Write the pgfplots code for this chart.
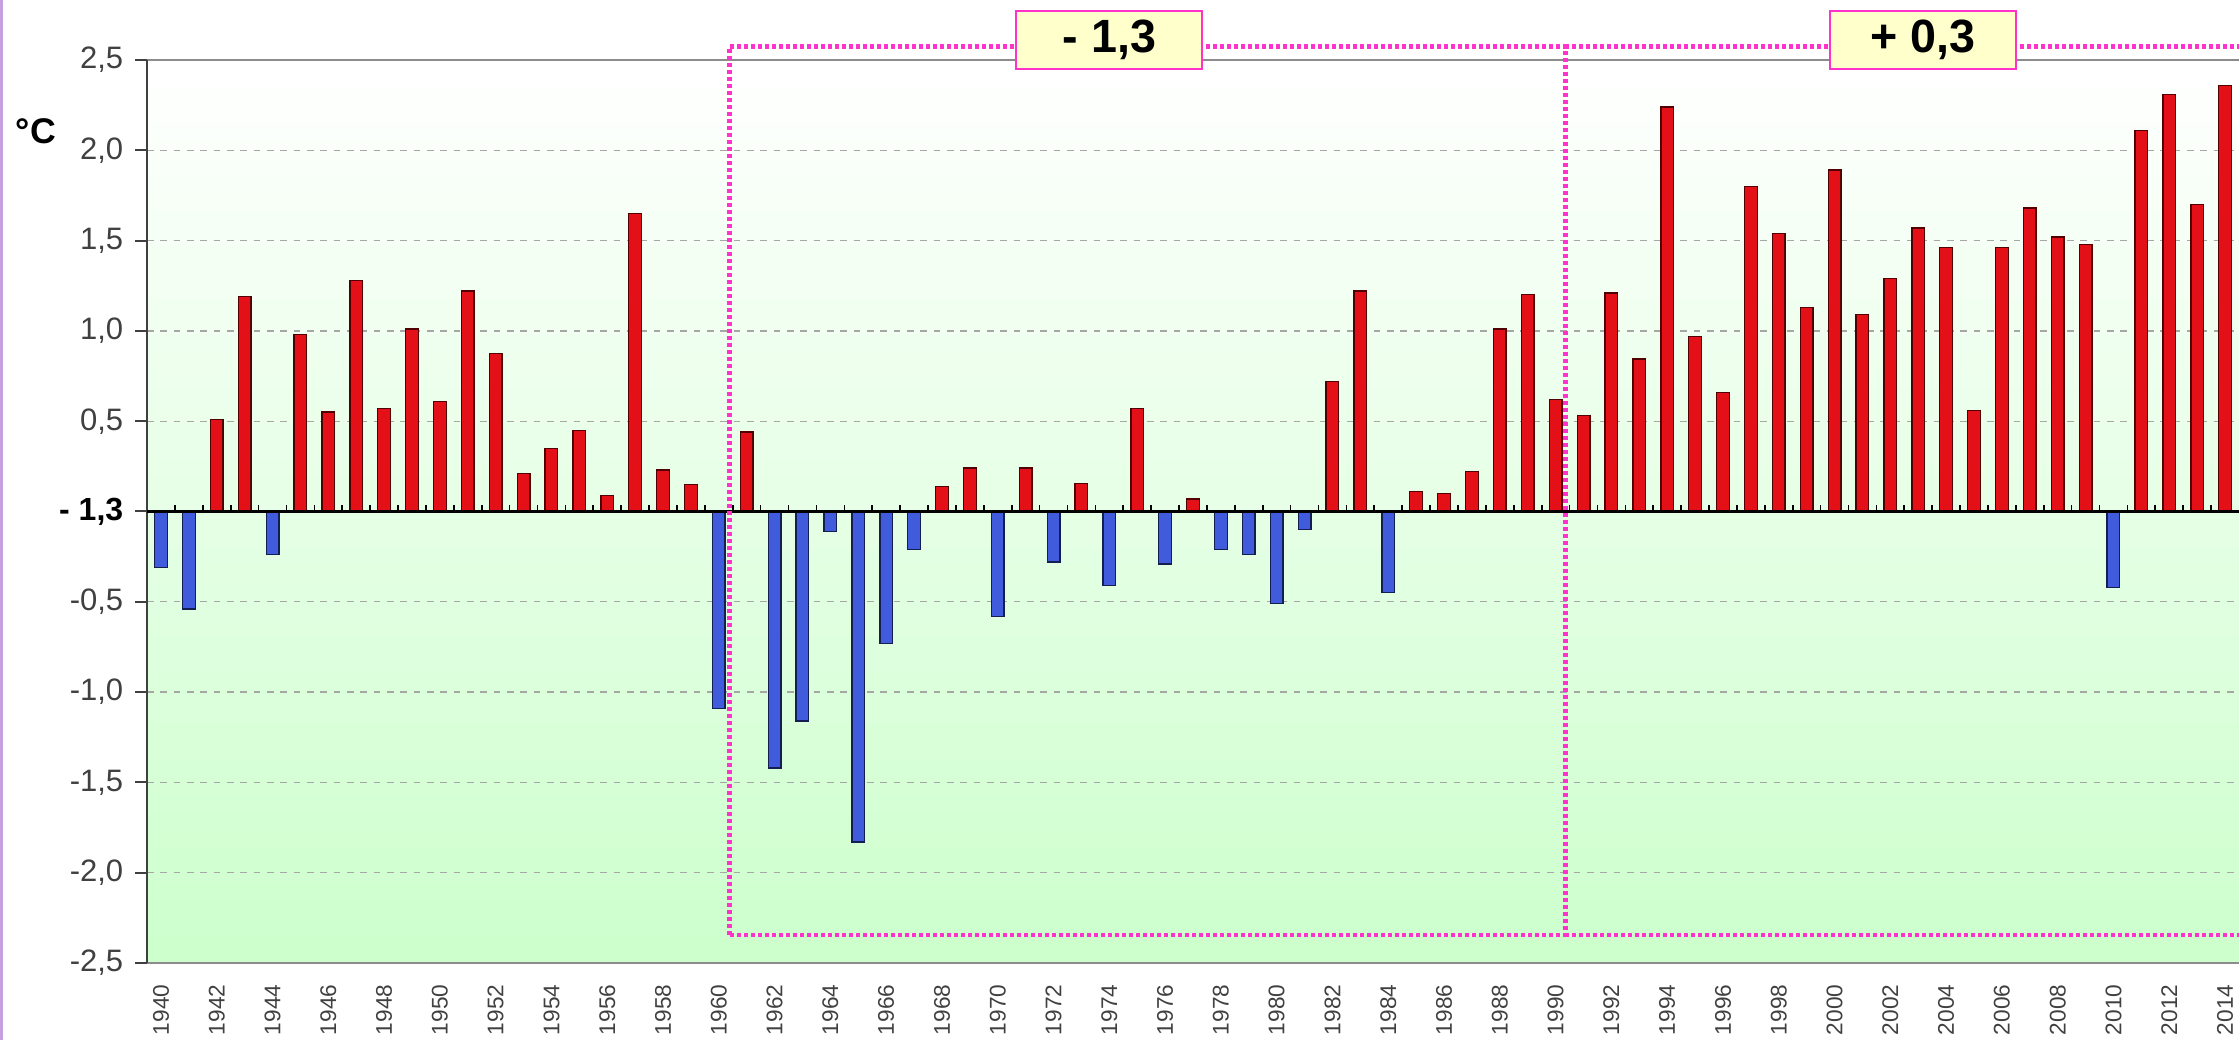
\documentclass[border=0pt]{standalone}
\usepackage{pgfplots}
\pgfplotsset{compat=1.18}
\usepackage{fontspec}
\setmainfont{Liberation Sans}
\definecolor{barred}{RGB}{228,16,24}
\definecolor{barredd}{RGB}{80,0,0}
\definecolor{barblue}{RGB}{64,92,220}
\definecolor{barblued}{RGB}{20,30,80}
\definecolor{bggreen}{RGB}{204,255,204}
\definecolor{magline}{RGB}{255,51,204}
\definecolor{boxfill}{RGB}{255,255,204}
\definecolor{lav}{RGB}{200,160,225}
\begin{document}
\begin{tikzpicture}[x=1pt,y=1pt]
\useasboundingbox (0,0) rectangle (671.7,312);
\draw[lav, line width=1pt] (0.5,0) -- (0.5,312);
\node[font=\fontsize{10.7}{12}\selectfont\bfseries] at (10.8,272.7) {°C};
\begin{axis}[
  at={(44.1pt,23.1pt)}, anchor=south west,
  width=627.6pt, height=270.9pt, scale only axis,
  xmin=1939.5, xmax=2014.5, ymin=-2.5, ymax=2.5,
  clip=false,
  axis line style={draw=none},
  axis background/.style={shade, top color=white, bottom color=bggreen},
  xtick={1940,1942,...,2014},
  /pgf/number format/assume math mode=true,
  xticklabel shift=2.2pt,
  x tick label style={rotate=90, anchor=east, inner sep=0.5pt, font=\fontsize{6.8}{8}\selectfont, color=black!75, /pgf/number format/1000 sep={}},
  xtick style={draw=none},
  ytick={-2.5,-2,-1.5,-1,-0.5,0,0.5,1,1.5,2,2.5},
  yticklabels={{-2,5},{-2,0},{-1,5},{-1,0},{-0,5},{\bfseries\color{black}\fontsize{9.6}{11}\selectfont - 1,3},{0,5},{1,0},{1,5},{2,0},{2,5}},
  y tick label style={font=\fontsize{9.3}{11}\selectfont, color=black!75},
  ytick style={draw=black!75, line width=0.6pt},
  tick align=outside, major tick length=3.6pt,
  ymajorgrids, grid style={gray!70, dash pattern=on 2pt off 2pt, line width=0.4pt},
  ybar, bar width=3.8pt, bar shift=0pt,
]
\addplot[fill=barred, draw=barredd, line width=0.4pt] coordinates {
(1942,0.51) (1943,1.19) (1945,0.98) (1946,0.55) (1947,1.28) (1948,0.57) (1949,1.01)
(1950,0.61) (1951,1.22) (1952,0.875) (1953,0.21) (1954,0.35) (1955,0.45) (1956,0.09)
(1957,1.65) (1958,0.23) (1959,0.15) (1961,0.44) (1968,0.14) (1969,0.24) (1971,0.24)
(1973,0.155) (1975,0.57) (1977,0.07) (1982,0.72) (1983,1.22) (1985,0.11) (1986,0.10)
(1987,0.22) (1988,1.01) (1989,1.20) (1990,0.62) (1991,0.53) (1992,1.21) (1993,0.845)
(1994,2.24) (1995,0.97) (1996,0.66) (1997,1.80) (1998,1.54) (1999,1.13) (2000,1.89)
(2001,1.09) (2002,1.29) (2003,1.57) (2004,1.46) (2005,0.56) (2006,1.46) (2007,1.68)
(2008,1.52) (2009,1.48) (2011,2.11) (2012,2.31) (2013,1.70) (2014,2.36)
};
\addplot[fill=barblue, draw=barblued, line width=0.4pt] coordinates {
(1940,-0.31) (1941,-0.54) (1944,-0.24) (1960,-1.09) (1962,-1.42) (1963,-1.16)
(1964,-0.11) (1965,-1.83) (1966,-0.73) (1967,-0.21) (1970,-0.58) (1972,-0.28)
(1974,-0.41) (1976,-0.29) (1978,-0.21) (1979,-0.24) (1980,-0.51) (1981,-0.10)
(1984,-0.45) (2010,-0.42)
};
\draw[black!45, line width=0.7pt] (rel axis cs:0,1) -- (rel axis cs:1,1);
\draw[black!45, line width=0.7pt] (rel axis cs:0,0) -- (rel axis cs:1,0);
\draw[black!75, line width=0.8pt] (rel axis cs:0,0) -- (rel axis cs:0,1);
\draw[black, line width=0.7pt] (axis cs:1939.5,0) -- (axis cs:2014.5,0);
\pgfplotsinvokeforeach{1940,...,2013}{\draw[black, line width=0.5pt] (axis cs:#1.5,0) -- ++(0pt,2pt);}
\draw[magline, line width=1.3pt, dash pattern=on 1.2pt off 0.9pt] (axis cs:1960.38,-2.345) rectangle (axis cs:1990.35,2.575);
\draw[magline, line width=1.3pt, dash pattern=on 1.2pt off 0.9pt] (axis cs:1990.35,-2.345) -- (axis cs:2016,-2.345);
\draw[magline, line width=1.3pt, dash pattern=on 1.2pt off 0.9pt] (axis cs:1990.35,2.575) -- (axis cs:2016,2.575);
\node[draw=magline, line width=0.6pt, fill=boxfill, minimum width=55.8pt, minimum height=17.4pt, inner sep=0pt, font=\fontsize{14}{16}\selectfont\bfseries] at (axis cs:1974,2.61) {- 1,3};
\node[draw=magline, line width=0.6pt, fill=boxfill, minimum width=55.8pt, minimum height=17.4pt, inner sep=0pt, font=\fontsize{14}{16}\selectfont\bfseries] at (axis cs:2003.16,2.61) {+ 0,3};
\end{axis}
\end{tikzpicture}
\end{document}
